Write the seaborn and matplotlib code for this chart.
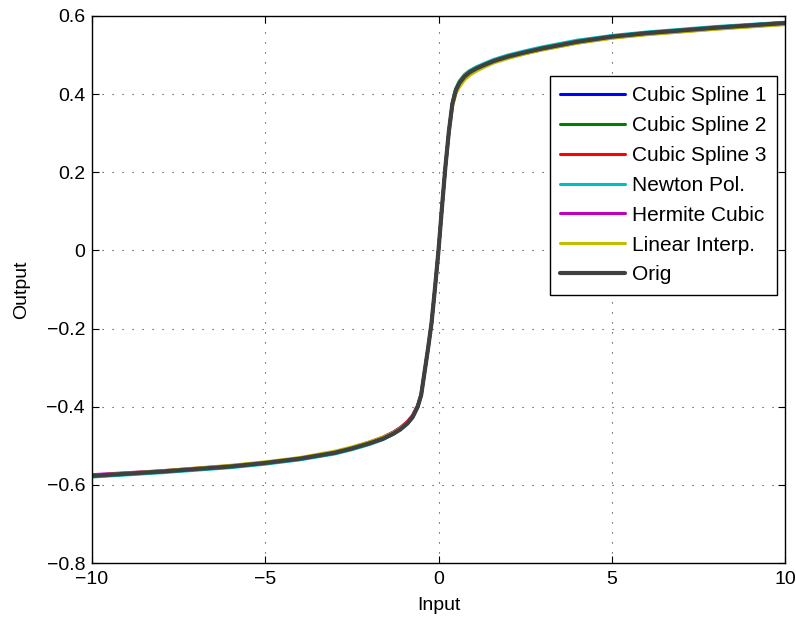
import matplotlib
matplotlib.use("Agg")
import matplotlib.pyplot as plt
import seaborn as sns
import pandas as pd

# ---------------- data ----------------
x_in = [-10, -8, -6, -5, -4, -3, -2.5, -2, -1.6, -1.3, -1.1, -0.9, -0.75, -0.6,
        -0.5, -0.4, -0.3, -0.2, -0.1, 0, 0.1, 0.2, 0.3, 0.4, 0.5, 0.6, 0.75,
        0.9, 1.1, 1.3, 1.6, 2, 2.5, 3, 4, 5, 6, 8, 10]

y_orig = [-0.577, -0.566, -0.553, -0.544, -0.533, -0.518, -0.507, -0.494, -0.482,
          -0.469, -0.458, -0.443, -0.427, -0.400, -0.370, -0.310, -0.250, -0.185,
          -0.095, 0.000, 0.110, 0.215, 0.305, 0.375, 0.410, 0.428, 0.445, 0.456,
          0.466, 0.474, 0.485, 0.496, 0.507, 0.517, 0.534, 0.547, 0.556, 0.570, 0.582]

y_cs1 = [-0.577, -0.566, -0.553, -0.544, -0.533, -0.518, -0.507, -0.494, -0.482,
         -0.469, -0.458, -0.443, -0.427, -0.400, -0.370, -0.310, -0.250, -0.185,
         -0.095, 0.000, 0.110, 0.215, 0.305, 0.375, 0.410, 0.428, 0.446, 0.457,
         0.467, 0.475, 0.486, 0.497, 0.508, 0.518, 0.535, 0.548, 0.557, 0.571, 0.583]

y_cs2 = [-0.577, -0.566, -0.553, -0.544, -0.533, -0.518, -0.507, -0.494, -0.482,
         -0.469, -0.458, -0.443, -0.427, -0.400, -0.370, -0.310, -0.250, -0.185,
         -0.095, 0.000, 0.110, 0.215, 0.306, 0.378, 0.414, 0.433, 0.450, 0.460,
         0.469, 0.476, 0.487, 0.498, 0.508, 0.518, 0.535, 0.548, 0.557, 0.571, 0.583]

y_cs3 = [-0.577, -0.566, -0.553, -0.544, -0.533, -0.517, -0.505, -0.491, -0.478,
         -0.465, -0.453, -0.438, -0.422, -0.396, -0.368, -0.310, -0.250, -0.185,
         -0.095, 0.000, 0.110, 0.214, 0.303, 0.371, 0.404, 0.422, 0.440, 0.452,
         0.463, 0.472, 0.484, 0.495, 0.506, 0.516, 0.533, 0.546, 0.555, 0.569, 0.581]

y_newton = [-0.580, -0.569, -0.556, -0.547, -0.536, -0.521, -0.510, -0.497, -0.484,
            -0.470, -0.459, -0.444, -0.428, -0.401, -0.371, -0.311, -0.251, -0.186,
            -0.095, 0.000, 0.111, 0.216, 0.306, 0.377, 0.413, 0.431, 0.449, 0.460,
            0.470, 0.478, 0.489, 0.500, 0.511, 0.521, 0.538, 0.550, 0.559, 0.573, 0.584]

y_hermite = [-0.574, -0.564, -0.551, -0.543, -0.532, -0.517, -0.505, -0.491, -0.478,
             -0.465, -0.454, -0.440, -0.424, -0.398, -0.369, -0.310, -0.250, -0.185,
             -0.095, 0.000, 0.110, 0.214, 0.304, 0.373, 0.407, 0.425, 0.442, 0.453,
             0.463, 0.471, 0.482, 0.493, 0.504, 0.514, 0.531, 0.544, 0.553, 0.567, 0.579]

y_linear = [-0.576, -0.564, -0.550, -0.541, -0.530, -0.514, -0.503, -0.490, -0.478,
            -0.466, -0.455, -0.441, -0.426, -0.399, -0.369, -0.309, -0.249, -0.184,
            -0.095, 0.000, 0.108, 0.211, 0.300, 0.368, 0.400, 0.418, 0.436, 0.448,
            0.459, 0.468, 0.480, 0.491, 0.503, 0.513, 0.530, 0.543, 0.552, 0.566, 0.578]

series_names = ["Cubic Spline 1", "Cubic Spline 2", "Cubic Spline 3", "Newton Pol.",
                "Hermite Cubic", "Linear Interp.", "Orig"]
series_values = [y_cs1, y_cs2, y_cs3, y_newton, y_hermite, y_linear, y_orig]
series_colors = ["#0000ff", "#008000", "#ff0000", "#00bfbf", "#bf00bf", "#bfbf00", "#404040"]
series_widths = [2.2, 2.2, 2.2, 2.2, 2.2, 2.2, 3.0]

x_ticks = [-10, -5, 0, 5, 10]
x_tick_labels = ["\u221210", "\u22125", "0", "5", "10"]
y_ticks = [-0.8, -0.6, -0.4, -0.2, 0, 0.2, 0.4, 0.6]
y_tick_labels = ["\u22120.8", "\u22120.6", "\u22120.4", "\u22120.2", "0", "0.2", "0.4", "0.6"]

# ---------------- plotting ----------------
sns.set_style("white")
plt.rcParams["font.family"] = ["Liberation Sans", "DejaVu Sans"]
plt.rcParams["text.color"] = "black"
plt.rcParams["axes.labelcolor"] = "black"

fig = plt.figure(figsize=(7.96, 6.18), dpi=100)
ax = fig.add_axes([92 / 796, 1 - 563 / 618, (785 - 92) / 796, (563 - 16) / 618])

for name, vals, col, lw in zip(series_names, series_values, series_colors, series_widths):
    df = pd.DataFrame({"Input": x_in, "Output": vals})
    sns.lineplot(data=df, x="Input", y="Output", ax=ax, color=col, linewidth=lw,
                 label=name, sort=False, estimator=None)

ax.set_xlim(-10, 10)
ax.set_ylim(-0.8, 0.6)
ax.set_xticks(x_ticks)
ax.set_xticklabels(x_tick_labels)
ax.set_yticks(y_ticks)
ax.set_yticklabels(y_tick_labels)
ax.tick_params(direction="in", length=5, width=0.8, labelsize=14, colors="black",
               top=True, right=True, bottom=True, left=True, pad=5)
ax.tick_params(axis="x", pad=6)
ax.grid(True, color="black", linestyle=(0, (1, 8)), linewidth=0.8, alpha=0.8)
for sp in ax.spines.values():
    sp.set_color("black")
    sp.set_linewidth(1.0)
ax.set_xlabel("Input", fontsize=14, labelpad=6, color="black")
ax.set_ylabel("Output", fontsize=14, labelpad=12, color="black")

leg = ax.legend(loc="upper right", bbox_to_anchor=(0.9885, 0.8903), fontsize=15,
                frameon=True, fancybox=False, edgecolor="black", framealpha=1,
                handlelength=3.1, handletextpad=0.35, labelspacing=0.52,
                borderpad=0.5, borderaxespad=0)
leg.get_frame().set_linewidth(1.0)
for t in leg.get_texts():
    t.set_color("black")

fig.savefig("out.png", dpi=100)
